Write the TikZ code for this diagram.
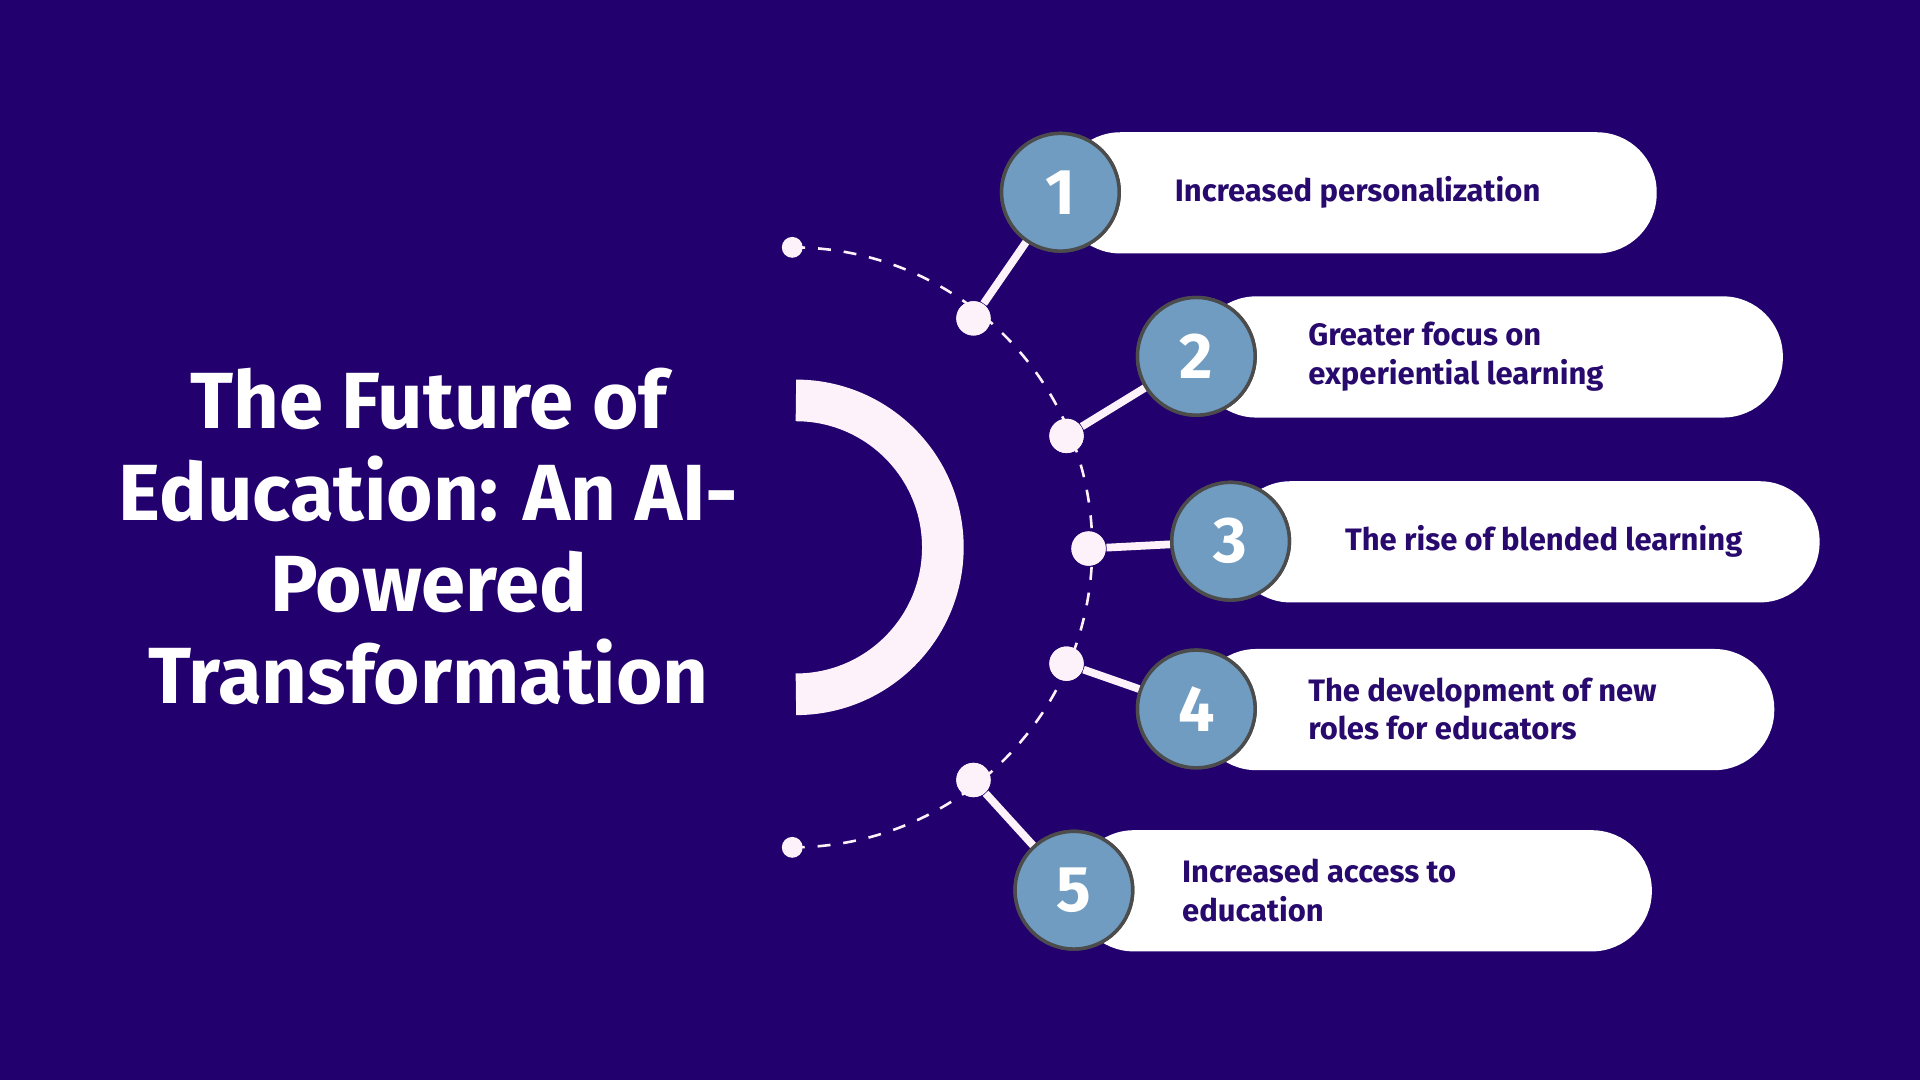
\documentclass[tikz,border=0pt]{standalone}
\usepackage{fontspec}
\setmainfont{Fira Sans}
\usetikzlibrary{positioning}
\definecolor{bgindigo}{RGB}{34,0,110}
\definecolor{arcpink}{RGB}{253,242,250}
\definecolor{numblue}{RGB}{111,156,192}
\definecolor{textindigo}{RGB}{40,10,110}
\begin{document}
\begin{tikzpicture}[x=0.01cm,y=-0.01cm]
      \tikzstyle{dot}=[circle,fill=arcpink,inner sep=0pt,minimum size=0.28cm]
      \tikzstyle{end dot}=[dot,minimum size=0.17cm]
      \tikzstyle{number}=[circle,fill=numblue,draw=black!70,line width=0.8pt,minimum size=0.96cm,inner sep=0pt,
        text=white,font=\fontsize{15}{15}\selectfont\bfseries]
      \tikzstyle{label}=[anchor=west,align=left,text=textindigo,font=\fontsize{7.2}{9}\selectfont\bfseries]

      % Background
      \fill[bgindigo] (0,0) rectangle (1568,882);
      \useasboundingbox (0,0) rectangle (1568,882);

      % Title
      \node[align=center,text=white,font=\fontsize{18.5}{21.3}\selectfont\bfseries] (title) at (350,438)
          {The Future of\\Education: An AI-\\Powered\\Transformation};

      % Thick half ring and dashed arc
      \coordinate (hub) at (650,447);
      \draw[arcpink,line width=0.34cm] (650,327) arc[start angle=-90,end angle=90,radius=120];
      \draw[arcpink,dashed,line width=0.6pt] (647,202) arc[start angle=-90,end angle=90,radius=245];
      \node[end dot] (top) at (647,202) {};
      \node[end dot] (bottom) at (647,692) {};

      % Items: number, pill, connector
      \foreach \n/\dx/\dy/\cx/\cy/\rx/\tx/\txt in {
          1/795/260/866/157/1353/947/{Increased personalization},
          2/871/356/977/291/1456/1056/{Greater focus on\\experiential learning},
          3/889/448/1005/442/1486/1086/{The rise of blended learning},
          4/871/542/977/579/1449/1056/{The development of new\\roles for educators},
          5/795/637/877/727/1349/953/{Increased access to\\education}} {
          \fill[white,rounded corners=0.49cm] (\cx,\cy-49) rectangle (\rx,\cy+50);
          \node[dot] (D-\n) at (\dx,\dy) {};
          \node[number] (N-\n) at (\cx,\cy) {\n};
          \draw[arcpink,line width=1.8pt] (D-\n) -- (N-\n);
          \node[dot] at (D-\n) {};
          \node[number] at (N-\n) {\n};
          \node[label] (L-\n) at (\tx,\cy) {\txt};
      }
\end{tikzpicture}
\end{document}
